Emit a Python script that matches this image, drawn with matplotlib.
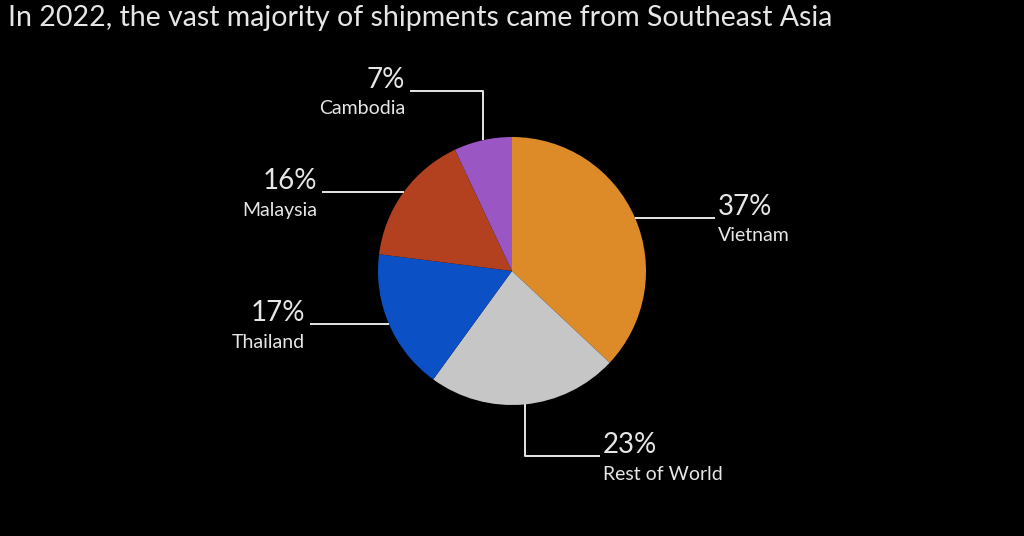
import numpy as np
import matplotlib.pyplot as plt

plt.rcParams['font.family'] = ['Lato', 'DejaVu Sans']

# data
countries = ["Vietnam", "Rest of World", "Thailand", "Malaysia", "Cambodia"]
shares = [37, 23, 17, 16, 7]
colors = ["#DC8B28", "#C6C6C6", "#0B50C4", "#B3411F", "#9A57C4"]

title = "In 2022, the vast majority of shipments came from Southeast Asia"

W, H = 1024, 536
BG = "black"
FG = "#E6E6E6"

# leader routing, in pixels from the top-left: ("h", end_x) or ("v", elbow_y, end_x)
leaders = {
    "Vietnam": ("h", 715),
    "Rest of World": ("v", 456, 600),
    "Thailand": ("h", 310),
    "Malaysia": ("h", 322),
    "Cambodia": ("v", 91, 410),
}


def py(y):
    return H - y


fig = plt.figure(figsize=(W / 100, H / 100), dpi=100, facecolor=BG)
ax = fig.add_axes([0, 0, 1, 1])
ax.set_facecolor(BG)

cx, cy, r = 512, 271, 134
wedges, _ = ax.pie(shares, colors=colors, startangle=90, counterclock=False,
                   center=(cx, py(cy)), radius=r,
                   wedgeprops=dict(linewidth=0))

for w, name, val in zip(wedges, countries, shares):
    mid = np.deg2rad((w.theta1 + w.theta2) / 2)
    x0 = cx + r * np.cos(mid)
    y0 = py(cy) + r * np.sin(mid)
    route = leaders[name]
    if route[0] == "h":
        xs, ys = [x0, route[1]], [y0, y0]
        end_x, end_y = route[1], y0
    else:
        xs = [x0, x0, route[2]]
        ys = [y0, py(route[1]), py(route[1])]
        end_x, end_y = route[2], py(route[1])
    ax.plot(xs, ys, color=FG, lw=1.4, solid_capstyle='butt')
    if end_x > cx:
        tx, ha = end_x + 3, 'left'
    else:
        tx, ha = end_x - 5, 'right'
    ax.text(tx, end_y + 11, f"{val}%", color=FG, fontsize=20,
            ha=ha, va='center')
    ax.text(tx, end_y - 18, name, color=FG, fontsize=14,
            ha=ha, va='center')

ax.set_xlim(0, W)
ax.set_ylim(0, H)
ax.set_aspect('equal')
ax.axis('off')

fig.text(8 / W, 1 - 18 / H, title, color=FG, fontsize=20.5,
         ha='left', va='center')

fig.savefig("out.png", dpi=100, facecolor=BG)
